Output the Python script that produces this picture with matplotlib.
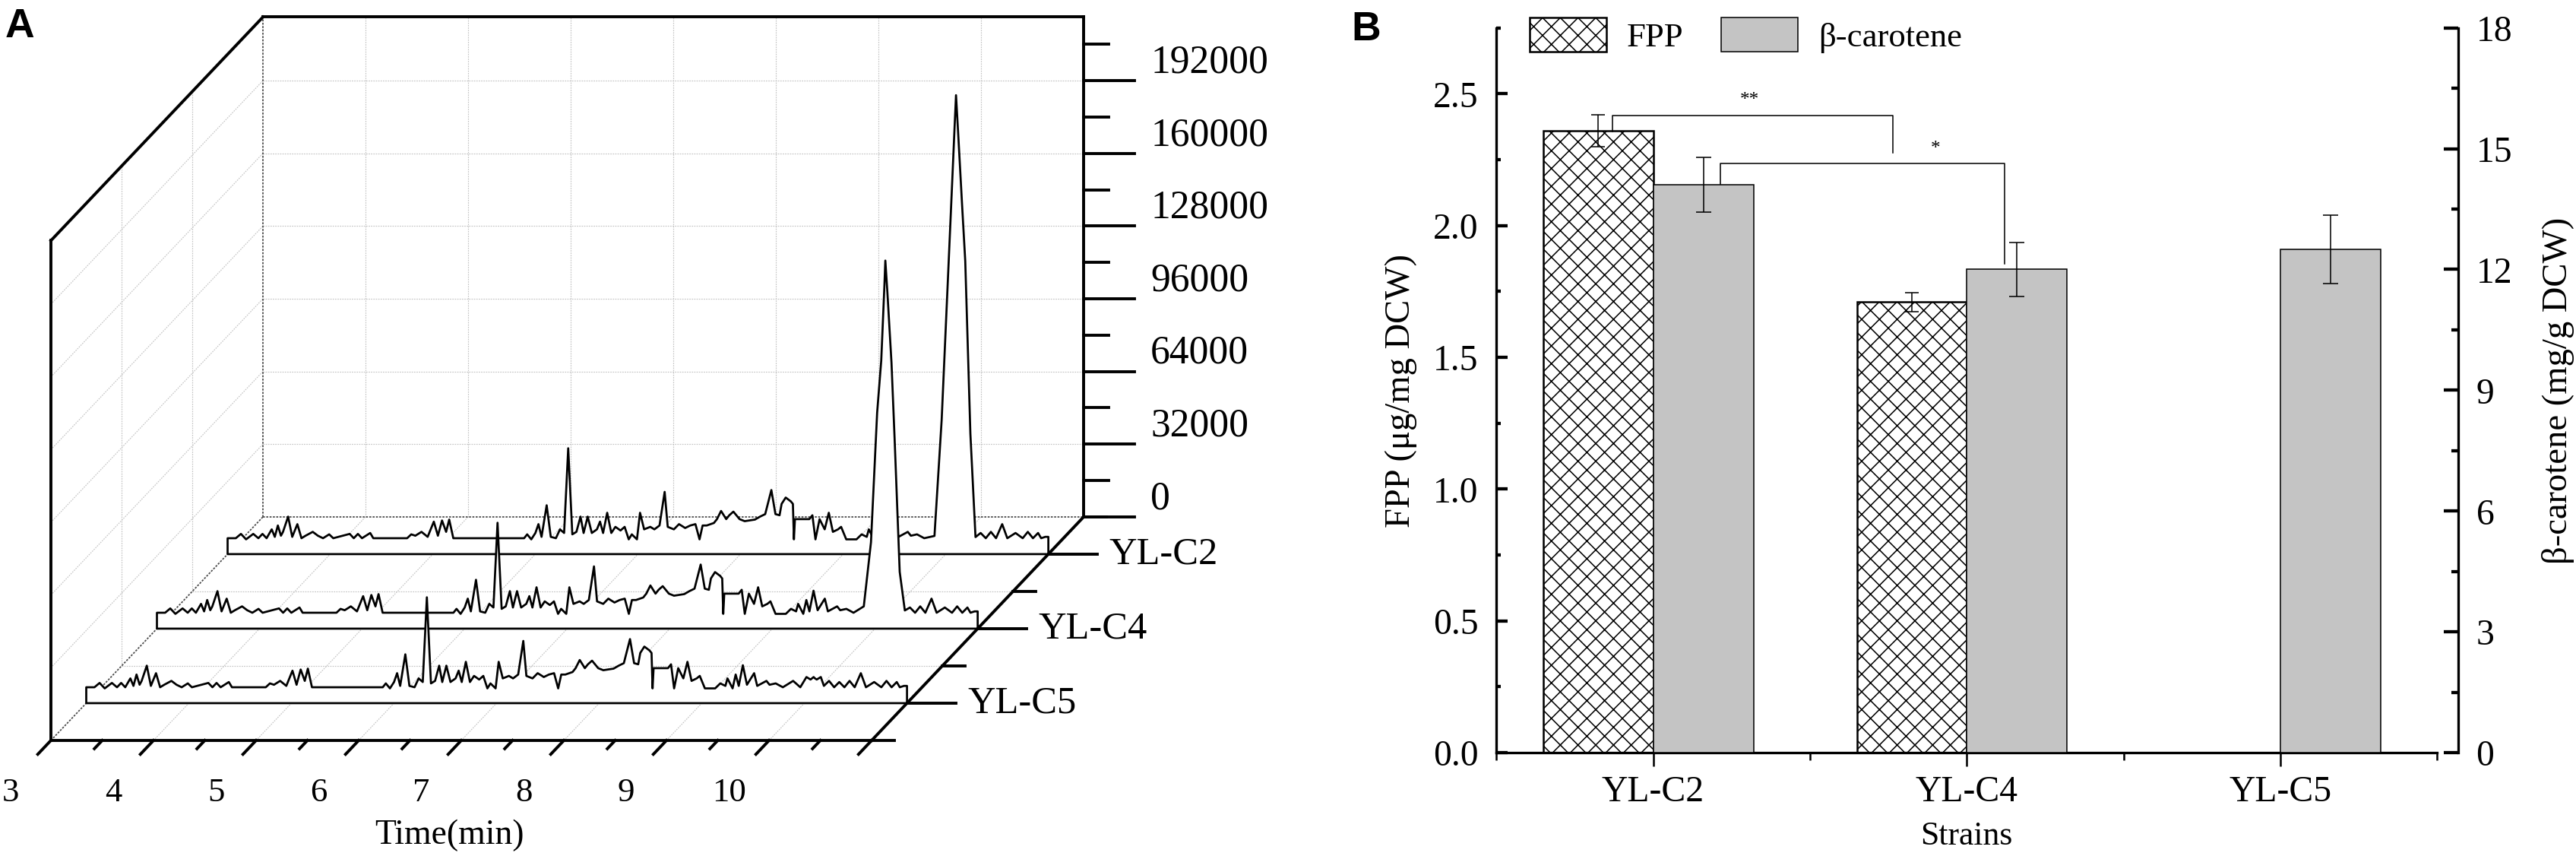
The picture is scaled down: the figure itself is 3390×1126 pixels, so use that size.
import numpy as np
import matplotlib.pyplot as plt
from matplotlib.ticker import MultipleLocator, FormatStrFormatter

plt.rcParams['font.family'] = ['Liberation Serif', 'DejaVu Serif']
plt.rcParams['hatch.linewidth'] = 0.8

W, H, DPI = 3390, 1126, 140

# ---------------- panel A : chromatograms (counts) ----------------
time_min = [3.00, 3.08, 3.13, 3.18, 3.25, 3.30, 3.34, 3.38, 3.43, 3.46,
            3.49, 3.52, 3.54, 3.59, 3.63, 3.68, 3.72, 3.76, 3.83, 3.88,
            3.93, 3.99, 4.03, 4.19, 4.23, 4.27, 4.31, 4.39, 4.42, 4.75,
            4.79, 4.83, 4.89, 4.95, 5.01, 5.05, 5.09, 5.13, 5.16, 5.20,
            5.89, 5.92, 5.96, 6.00, 6.03, 6.06, 6.11, 6.15, 6.20, 6.24,
            6.28, 6.32, 6.36, 6.40, 6.44, 6.47, 6.51, 6.55, 6.60, 6.63,
            6.66, 6.70, 6.74, 6.78, 6.83, 6.87, 6.91, 6.94, 6.99, 7.02,
            7.06, 7.12, 7.16, 7.21, 7.26, 7.29, 7.35, 7.40, 7.46, 7.51,
            7.56, 7.60, 7.63, 7.67, 7.74, 7.77, 7.81, 7.86, 7.89, 7.93,
            7.99, 8.04, 8.14, 8.19, 8.24, 8.30, 8.34, 8.38, 8.40, 8.44,
            8.49, 8.51, 8.52, 8.53, 8.67, 8.70, 8.73, 8.77, 8.82, 8.86,
            8.90, 8.95, 8.98, 9.03, 9.13, 9.18, 9.23, 9.25, 9.30, 9.33,
            9.36, 9.40, 9.44, 9.51, 9.54, 9.63, 9.66, 9.72, 9.79, 9.89,
            9.96, 10.02, 10.06, 10.09, 10.10, 10.12, 10.16, 10.19, 10.24, 10.29,
            10.34, 10.39, 10.44, 10.49, 10.55, 10.60, 10.68, 10.75, 10.80, 10.85,
            10.90, 10.93, 10.97, 11.00]

yl_c5 = [7000, 7000, 8900, 6500, 8900, 7000, 8900, 7000, 10900, 7600,
         12600, 8100, 9800, 16500, 7600, 13200, 7000, 8100, 9800, 8100,
         7000, 8700, 7000, 8900, 7000, 8900, 7000, 9300, 7000, 7000,
         8700, 8100, 9800, 7600, 14300, 8100, 14800, 9800, 15200, 7000,
         7000, 8700, 6500, 9300, 13200, 7600, 21500, 7600, 7000, 10900,
         9300, 46600, 8700, 9800, 16500, 9300, 16500, 9300, 10900, 14300,
         9300, 18200, 9300, 12000, 10400, 12000, 6500, 8700, 6500, 18200,
         10900, 12000, 10900, 12600, 27400, 12000, 10900, 13200, 11500, 12600,
         13200, 6500, 12600, 12600, 13700, 15400, 19000, 15400, 17100, 18700,
         15400, 14500, 15200, 16500, 17600, 28200, 17600, 17100, 22100, 24900,
         23200, 22100, 6500, 15400, 15400, 17100, 6500, 15400, 10900, 18200,
         9800, 10900, 12000, 6500, 6500, 8700, 7600, 10900, 6500, 12600,
         7600, 16700, 8100, 13200, 7600, 9800, 8100, 8700, 7000, 9800,
         7000, 11500, 10400, 11500, 11000, 10400, 11500, 7600, 9800, 7000,
         9300, 7000, 9800, 7000, 13200, 7000, 9300, 7000, 9800, 7000,
         9300, 7000, 7600, 7600]

yl_c4 = [7000, 7000, 8900, 6500, 8900, 7000, 8900, 7000, 10900, 7600,
         12600, 8100, 9800, 16500, 7600, 13200, 7000, 8100, 9800, 8100,
         7000, 8700, 7000, 8900, 7000, 8900, 7000, 9300, 7000, 7000,
         8700, 8100, 9800, 7600, 14300, 8100, 14800, 9800, 15200, 7000,
         7000, 8700, 6500, 9300, 13200, 7600, 21500, 7600, 7000, 10900,
         9300, 46600, 8700, 9800, 16500, 9300, 16500, 9300, 10900, 14300,
         9300, 18200, 9300, 12000, 10400, 12000, 6500, 8700, 6500, 18200,
         10900, 12000, 10900, 12600, 27400, 12000, 10900, 13200, 11500, 12600,
         13200, 6500, 12600, 12600, 13700, 15400, 19000, 15400, 17100, 18700,
         15400, 14500, 15200, 16500, 17600, 28200, 17600, 17100, 22100, 24900,
         23200, 22100, 6500, 15400, 15400, 17100, 6500, 15400, 10900, 18200,
         9800, 10900, 12000, 6500, 6500, 8700, 7600, 10900, 6500, 12600,
         7600, 16700, 8100, 13200, 7600, 9800, 8100, 8700, 7000, 9800,
         38000, 95000, 118000, 150000, 162000, 148000, 117000, 84000, 25000, 8000,
         9300, 7000, 9800, 7000, 13200, 7000, 9300, 7000, 9800, 7000,
         9300, 7000, 7600, 7600]

yl_c2 = [7000, 7000, 8900, 6500, 8900, 7000, 8900, 7000, 10900, 7600,
         12600, 8100, 9800, 16500, 7600, 13200, 7000, 8100, 9800, 8100,
         7000, 8700, 7000, 8900, 7000, 8900, 7000, 9300, 7000, 7000,
         8700, 8100, 9800, 7600, 14300, 8100, 14800, 9800, 15200, 7000,
         7000, 8700, 6500, 9300, 13200, 7600, 21500, 7600, 7000, 10900,
         9300, 46600, 8700, 9800, 16500, 9300, 16500, 9300, 10900, 14300,
         9300, 18200, 9300, 12000, 10400, 12000, 6500, 8700, 6500, 18200,
         10900, 12000, 10900, 12600, 27400, 12000, 10900, 13200, 11500, 12600,
         13200, 6500, 12600, 12600, 13700, 15400, 19000, 15400, 17100, 18700,
         15400, 14500, 15200, 16500, 17600, 28200, 17600, 17100, 22100, 24900,
         23200, 22100, 6500, 15400, 15400, 17100, 6500, 15400, 10900, 18200,
         9800, 10900, 12000, 6500, 6500, 8700, 7600, 10900, 6500, 12600,
         7600, 16700, 8100, 13200, 7600, 9800, 8100, 8700, 7000, 8000,
         59000, 120000, 161000, 192000, 202000, 186000, 153000, 129000, 53000, 7500,
         9300, 7000, 9800, 7000, 13200, 7000, 9300, 7000, 9800, 7000,
         9300, 7000, 7600, 7600]

trace_names = ['YL-C5', 'YL-C4', 'YL-C2']        # front -> back
z_major = [0, 32000, 64000, 96000, 128000, 160000, 192000]
time_labels = [3, 4, 5, 6, 7, 8, 9, 10]

# ---------------- panel B : titres ----------------
strains = ['YL-C2', 'YL-C4', 'YL-C5']
fpp = [2.36, 1.71]
fpp_err = [0.06, 0.036]
bcar = [14.1, 12.0, 12.5]
bcar_err = [0.68, 0.67, 0.85]

# ---------------- layout of the oblique 3D box (pixels) ----------------
A_W = 1700                  # width of panel A axes in px
X0, Y0 = 67, 974            # px of (t=3, front, z=0)
PX_MIN = 135.0              # px per minute
Z_PER_PX = 334.7            # counts per px
DEP_X, DEP_Y = 279, 294     # px shift front -> back
T0, T1, ZMAX = 3.0, 11.0, 220000
DT = DEP_X / PX_MIN
DZ = DEP_Y * Z_PER_PX


def proj(t, s, z):
    return np.asarray(t, float) + s * DT, np.asarray(z, float) + s * DZ


fig = plt.figure(figsize=((W + 0.3) / DPI, (H + 0.3) / DPI), dpi=DPI)

axA = fig.add_axes([0, 0, A_W / W, 1])
axA.set_xlim(T0 - X0 / PX_MIN, T0 + (A_W - X0) / PX_MIN)
axA.set_ylim(-(H - Y0) * Z_PER_PX, Y0 * Z_PER_PX)
axA.axis('off')


def seg(p, q, **kw):
    axA.plot([p[0], q[0]], [p[1], q[1]], **kw)


grid_kw = dict(color='#c4c4c4', lw=0.6, ls=(0, (1.5, 1.2)), zorder=1)
edge_kw = dict(color='#4a4a4a', lw=0.9, ls=(0, (1.5, 1.0)), zorder=1.5)
frame_kw = dict(color='black', lw=2.0, solid_capstyle='projecting', zorder=6)

# back wall, left wall and floor grid
for t in range(4, 11):
    seg(proj(t, 1, 0), proj(t, 1, ZMAX), **grid_kw)
    seg(proj(t, 0, 0), proj(t, 1, 0), **grid_kw)
for z in z_major[1:]:
    seg(proj(T0, 1, z), proj(T1, 1, z), **grid_kw)
    seg(proj(T0, 0, z), proj(T0, 1, z), **grid_kw)
for s in (1 / 3, 2 / 3):
    seg(proj(T0, s, 0), proj(T0, s, ZMAX), **grid_kw)
    seg(proj(T0, s, 0), proj(T1, s, 0), **grid_kw)

seg(proj(T0, 1, 0), proj(T0, 1, ZMAX), **edge_kw)
seg(proj(T0, 1, 0), proj(T1, 1, 0), **edge_kw)
seg(proj(T0, 0, 0), proj(T0, 1, 0), **edge_kw)

# outer frame
for p, q in [((T0, 0, 0), (T0, 0, ZMAX)), ((T0, 0, ZMAX), (T0, 1, ZMAX)),
             ((T0, 1, ZMAX), (T1, 1, ZMAX)), ((T1, 1, ZMAX), (T1, 1, 0)),
             ((T0, 0, 0), (T1, 0, 0)), ((T1, 0, 0), (T1, 1, 0))]:
    seg(proj(*p), proj(*q), **frame_kw)

# traces as white walls, back to front
traces = [yl_c5, yl_c4, yl_c2]
for i, vals in enumerate(traces):
    s = (i + 0.5) / 3
    xs = [T0] + time_min + [T1]
    zs = [0] + vals + [0]
    px, py = proj(xs, s, zs)
    axA.fill(px, py, facecolor='white', edgecolor='black', lw=1.4,
             joinstyle='round', zorder=4 - i)

# time axis ticks (slanted toward the viewer)
for k in range(int(T0 * 2), int(T1 * 2) + 1):
    t = k / 2
    e = 0.062 if k % 2 == 0 else 0.037
    seg(proj(t, 0, 0), proj(t, -e, 0), color='black', lw=2.0, zorder=6)
for t in time_labels:
    x, y = proj(t, 0, 0)
    axA.text(x - 53 / PX_MIN, y - 69 * Z_PER_PX, str(t), ha='center', va='center',
             fontsize=23)
axA.text(T0 + (591 - X0) / PX_MIN, -(1099 - Y0) * Z_PER_PX, 'Time(min)',
         ha='center', va='center', fontsize=23.5)

# intensity axis (back right corner)
for k in range(0, 14):
    z = k * 16000
    x, y = proj(T1, 1, z)
    ln = 67 if k % 2 == 0 else 33
    seg((x, y), (x + ln / PX_MIN, y), color='black', lw=2.0, zorder=6)
for z in z_major:
    x, y = proj(T1, 1, z)
    axA.text(x + 88 / PX_MIN, y + 24 * Z_PER_PX, str(z), ha='left', va='center',
             fontsize=26.5)

# depth axis (right floor edge)
for k in range(0, 7):
    s = k / 6
    x, y = proj(T1, s, 0)
    ln = 64 if k % 2 == 1 else 30
    seg((x, y), (x + ln / PX_MIN, y), color='black', lw=2.0, zorder=6)
for i, name in enumerate(trace_names):
    x, y = proj(T1, (i + 0.5) / 3, 0)
    axA.text(x + 80 / PX_MIN, y, name, ha='left', va='center', fontsize=26)

fig.text(7 / W, 1 - 10 / H, 'A', ha='left', va='top', fontsize=27.5,
         fontweight='bold', family='Liberation Sans')

# ---------------- panel B ----------------
bx0, bx1, by0, by1 = 1969, 3207, 37, 990
axB = fig.add_axes([bx0 / W, (H - by1) / H, (bx1 - bx0) / W, (by1 - by0) / H])
axB2 = axB.twinx()

xpos = np.arange(len(strains))
h_fpp = axB.bar(xpos[:len(fpp)], fpp, width=-0.35, align='edge', facecolor='white',
                edgecolor='black', hatch='xx', lw=1.3, zorder=2)
axB.errorbar(xpos[:len(fpp)] - 0.175, fpp, yerr=fpp_err, fmt='none', ecolor='black',
             elinewidth=0.8, capsize=4.6, capthick=0.8, zorder=3)
h_bcar = axB2.bar(xpos, bcar, width=0.32, align='edge', facecolor='#c4c4c4',
                  edgecolor='black', lw=0.8, zorder=2)
axB2.errorbar(xpos + 0.16, bcar, yerr=bcar_err, fmt='none', ecolor='black',
              elinewidth=0.8, capsize=5, capthick=0.8, zorder=3)

axB.set_xlim(-0.5, 2.5)
axB.set_ylim(0, 2.75)
axB2.set_ylim(0, 18)

# significance brackets
axB2.plot([-0.13, -0.13, 0.765, 0.765], np.array([2.358, 2.416, 2.416, 2.276]) * 18 / 2.75,
          color='black', lw=0.8, zorder=5)
axB2.plot([0.215, 0.215, 1.121, 1.121], np.array([2.157, 2.237, 2.237, 1.855]) * 18 / 2.75,
          color='black', lw=0.8, zorder=5)
axB2.text(0.307, 2.475 * 18 / 2.75, '**', ha='center', va='center', fontsize=13)
axB2.text(0.90, 2.29 * 18 / 2.75, '*', ha='center', va='center', fontsize=13)

for sp in ('top', 'right'):
    axB.spines[sp].set_visible(False)
for sp in ('top', 'left', 'bottom'):
    axB2.spines[sp].set_visible(False)
axB.spines['left'].set_linewidth(1.7)
axB.spines['bottom'].set_linewidth(1.7)
axB2.spines['right'].set_linewidth(1.7)
axB2.spines['right'].set_position(('outward', 14.4))

axB.yaxis.set_major_locator(MultipleLocator(0.5))
axB.yaxis.set_minor_locator(MultipleLocator(0.25))
axB.yaxis.set_major_formatter(FormatStrFormatter('%.1f'))
axB.tick_params(axis='y', which='major', direction='in', length=7.7, width=2.2,
                labelsize=24.5, pad=12)
axB.tick_params(axis='y', which='minor', direction='in', length=3.1, width=2.2)

axB.set_xticks(xpos)
axB.set_xticklabels(strains)
axB.set_xticks([-0.5, 0.5, 1.5, 2.5], minor=True)
axB.tick_params(axis='x', which='major', direction='out', length=9.3, width=1.3,
                labelsize=24.5, pad=6)
axB.tick_params(axis='x', which='minor', direction='out', length=5, width=1.3)

axB2.yaxis.set_major_locator(MultipleLocator(3))
axB2.yaxis.set_minor_locator(MultipleLocator(1.5))
axB2.tick_params(axis='y', which='major', direction='in', length=9.8, width=2.2,
                 labelsize=24.5, pad=12)
axB2.tick_params(axis='y', which='minor', direction='in', length=4.6, width=2.2)

axB.set_ylabel('FPP (μg/mg DCW)', fontsize=24, labelpad=11)
axB2.set_ylabel('β-carotene (mg/g DCW)', fontsize=24, labelpad=20)
axB.set_xlabel('Strains', fontsize=22.5, labelpad=8)

# legend handles keep the reference box size (~101 x 53 px)
axB2.legend([h_fpp, h_bcar], ['FPP', 'β-carotene'], loc='upper left',
            bbox_to_anchor=(0.0355, 1.0147), ncol=2, frameon=False, fontsize=23,
            handlelength=2.26, handleheight=1.18, handletextpad=0.6,
            columnspacing=1.1, borderpad=0, borderaxespad=0)

fig.text(1778 / W, 1 - 14 / H, 'B', ha='left', va='top', fontsize=27.5,
         fontweight='bold', family='Liberation Sans')

fig.savefig('out.png', dpi=DPI)
